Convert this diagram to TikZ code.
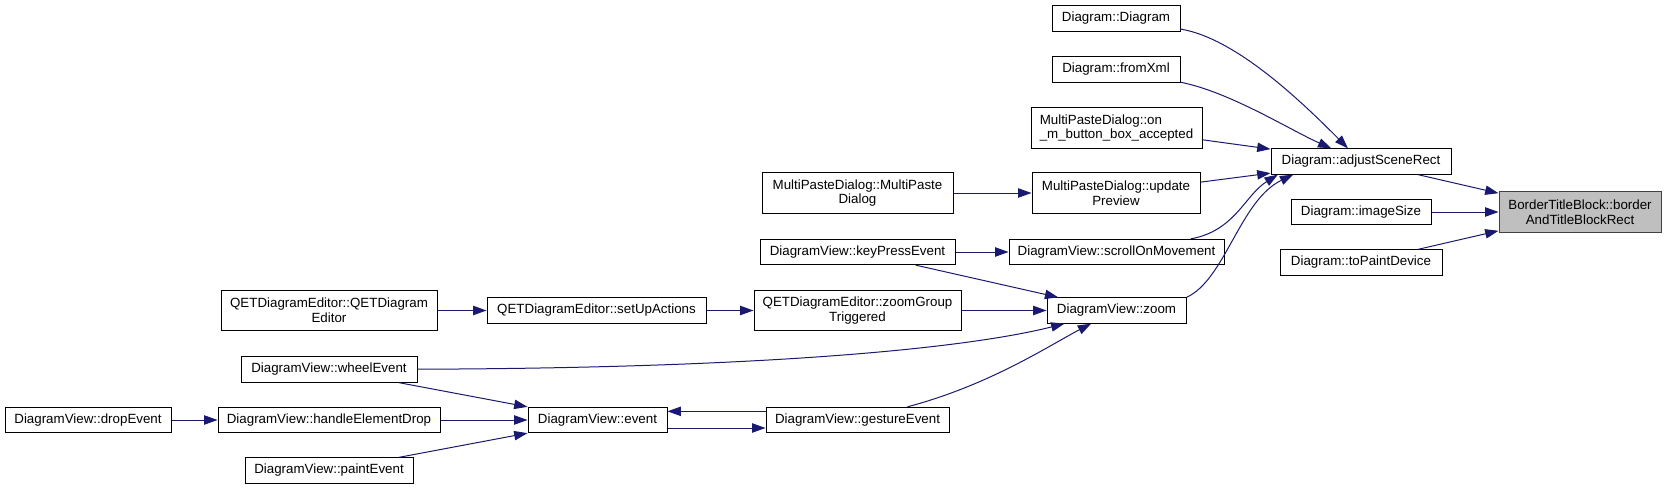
\documentclass[tikz,border=0pt]{standalone}
\usepackage{fontspec}
\setmainfont{Liberation Sans}
\usepackage{xcolor}
\usepackage{tikz}
\usetikzlibrary{arrows.meta}
\definecolor{CGEdge}{HTML}{191970}
\definecolor{CGRoot}{HTML}{BFBFBF}
\definecolor{CGFrame}{HTML}{404040}

\begin{document}
\begin{tikzpicture}[x=0.75pt,y=-0.75pt,
  fn/.style={draw=black,line width=0.75pt,fill=white,inner sep=2pt,minimum height=19pt,font=\fontsize{10}{11}\selectfont,align=center},
  fntwo/.style={fn,minimum height=30.5pt},
  call/.style={CGEdge,line width=0.75pt,-{Triangle[length=10pt,width=7pt]}}]
\path[use as bounding box] (0,0) rectangle (1667,489);
% right column
\node[fntwo,fill=CGRoot,draw=CGFrame,minimum width=121.5pt] (btb) at (1580,212) {BorderTitleBlock::border\\AndTitleBlockRect};
\node[fn,minimum width=135pt] (asr) at (1361,161.5) {Diagram::adjustSceneRect};
\node[fn,minimum width=105pt] (isz) at (1361,212) {Diagram::imageSize};
\node[fn,minimum width=121.5pt] (tpd) at (1361,262.5) {Diagram::toPaintDevice};
% callers of adjustSceneRect
\node[fn,minimum width=96pt] (dd) at (1116,18.5) {Diagram::Diagram};
\node[fn,minimum width=96pt] (fx) at (1116,69.5) {Diagram::fromXml};
\node[fntwo,align=left,minimum width=128.25pt] (onm) at (1116.5,128) {MultiPasteDialog::on\\\_m\_button\_box\_accepted};
\node[fntwo,minimum width=126pt] (upd) at (1116,193) {MultiPasteDialog::update\\Preview};
\node[fn,minimum width=161.25pt] (som) at (1116.5,252) {DiagramView::scrollOnMovement};
\node[fn,minimum width=104.25pt] (zm) at (1116.5,310.5) {DiagramView::zoom};
% middle column
\node[fntwo,minimum width=143.25pt] (mpd) at (857.5,193) {MultiPasteDialog::MultiPaste\\Dialog};
\node[fn,minimum width=146.25pt] (kpe) at (857.5,252) {DiagramView::keyPressEvent};
\node[fntwo,minimum width=155.25pt] (zgt) at (857.5,310.5) {QETDiagramEditor::zoomGroup\\Triggered};
\node[fn,minimum width=137.25pt] (gst) at (857.5,420) {DiagramView::gestureEvent};
\node[fn,minimum width=164.25pt] (sua) at (596.5,310.5) {QETDiagramEditor::setUpActions};
\node[fn,minimum width=104.25pt] (evt) at (597.5,420) {DiagramView::event};
% left columns
\node[fntwo,minimum width=162pt] (qde) at (329,310.5) {QETDiagramEditor::QETDiagram\\Editor};
\node[fn,minimum width=132pt] (whe) at (329,369.5) {DiagramView::wheelEvent};
\node[fn,minimum width=166.5pt] (hed) at (329,420) {DiagramView::handleElementDrop};
\node[fn,minimum width=126pt] (pnt) at (329,470.5) {DiagramView::paintEvent};
\node[fn,minimum width=124.5pt] (dpe) at (88,420) {DiagramView::dropEvent};
% calls
\draw[call] (asr) -- (btb);
\draw[call] (isz) -- (btb);
\draw[call] (tpd) -- (btb);
\draw[call] (dd) .. controls (1235,38) and (1300,100) .. (asr);
\draw[call] (fx) .. controls (1230,92) and (1290,130) .. (asr);
\draw[call] (onm) -- (asr);
\draw[call] (upd) -- (asr);
\draw[call] (som) .. controls (1235,231) and (1245,195) .. (asr.189);
\draw[call] (zm.north east) .. controls (1225,280) and (1240,200) .. (asr.191);
\draw[call] (mpd) -- (upd);
\draw[call] (kpe) -- (som);
\draw[call] (kpe) -- (zm);
\draw[call] (zgt) -- (zm);
\draw[call] (whe) .. controls (800,368) and (980,345) .. (zm);
\draw[call] (gst) .. controls (990,385) and (1050,345) .. (zm);
\draw[call] (qde) -- (sua);
\draw[call] (sua) -- (zgt);
\draw[call] (whe) -- (evt);
\draw[call] (hed) -- (evt);
\draw[call] (pnt) -- (evt);
\draw[call] (dpe) -- (hed);
\draw[call] ([yshift=-6pt]evt.east) -- ([yshift=-6pt]gst.west);
\draw[call] ([yshift=6.5pt]gst.west) -- ([yshift=6.5pt]evt.east);
\end{tikzpicture}
\end{document}
